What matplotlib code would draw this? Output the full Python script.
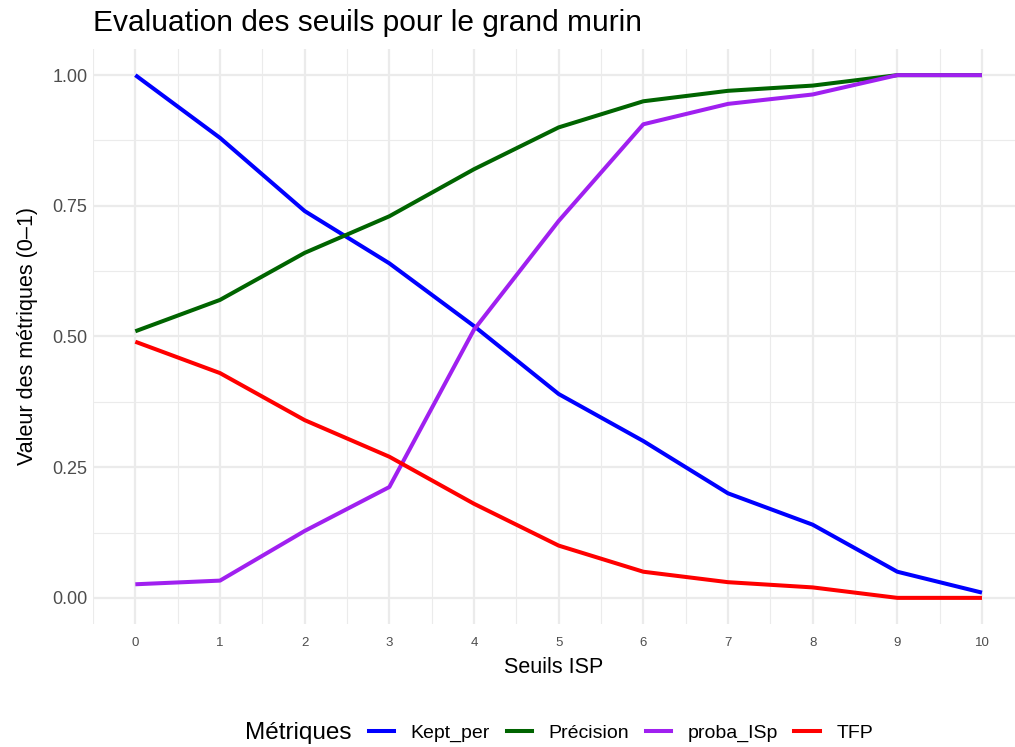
import matplotlib
matplotlib.use("Agg")
import matplotlib.pyplot as plt
from matplotlib.lines import Line2D
import numpy as np

plt.rcParams['font.family'] = ['Liberation Sans', 'DejaVu Sans']

seuils = [0, 1, 2, 3, 4, 5, 6, 7, 8, 9, 10]
kept_per = [1.00, 0.88, 0.74, 0.64, 0.52, 0.39, 0.30, 0.20, 0.14, 0.05, 0.01]
precision = [0.51, 0.57, 0.66, 0.73, 0.82, 0.90, 0.95, 0.97, 0.98, 1.00, 1.00]
proba_isp = [0.026, 0.033, 0.128, 0.212, 0.513, 0.721, 0.906, 0.945, 0.963, 1.00, 1.00]
tfp = [0.49, 0.43, 0.34, 0.27, 0.18, 0.10, 0.05, 0.03, 0.02, 0.00, 0.00]

series_names = ['Kept_per', 'Précision', 'proba_ISp', 'TFP']
series_values = [kept_per, precision, proba_isp, tfp]
series_colors = ['#0000FF', '#006400', '#A020F0', '#FF0000']
y_ticks = [0.00, 0.25, 0.50, 0.75, 1.00]
y_tick_labels = ['0.00', '0.25', '0.50', '0.75', '1.00']

W, H = 1015, 747
fig = plt.figure(figsize=(W / 100, H / 100), dpi=100)
left, right, top, bottom = 93, 1015, 49, 624
ax = fig.add_axes([left / W, 1 - bottom / H, (right - left) / W, (bottom - top) / H])

ax.set_xlim(-0.5, 10.39)
ax.set_ylim(-0.05, 1.05)

# grid
for x in np.arange(-0.5, 10.5, 0.5):
    major = float(x).is_integer()
    ax.axvline(x, color='#EBEBEB', lw=1.6 if major else 0.8, zorder=0)
for y in np.arange(-0.125, 1.1, 0.125):
    major = abs((y / 0.25) - round(y / 0.25)) < 1e-9
    ax.axhline(y, color='#EBEBEB', lw=1.6 if major else 0.8, zorder=0)

for name, vals, col in zip(series_names, series_values, series_colors):
    ax.plot(seuils, vals, color=col, lw=2.9, solid_capstyle='butt', solid_joinstyle='round', label=name, zorder=3)

for s in ax.spines.values():
    s.set_visible(False)
ax.set_xticks(seuils)
ax.set_xticklabels([str(s) for s in seuils], fontsize=9.5, color='#4D4D4D')
ax.set_yticks(y_ticks)
ax.set_yticklabels(y_tick_labels, fontsize=13, color='#4D4D4D')
ax.tick_params(length=0, pad=4)
ax.tick_params(axis='x', pad=9)

ax.set_xlabel('Seuils ISP', fontsize=15.5, labelpad=6)
ax.set_ylabel('Valeur des métriques (0–1)', fontsize=15.5, labelpad=10)

fig.text(left / W, 1 - 23 / H, 'Evaluation des seuils pour le grand murin', fontsize=21.5,
         ha='left', va='center')

# legend at the bottom
fig.text(245 / W, 1 - 733 / H, 'Métriques', fontsize=17.5, ha='left', va='center')
handles = [Line2D([0], [0], color=c, lw=2.9) for c in series_colors]
leg = fig.legend(handles, series_names, loc='center left', bbox_to_anchor=(369 / W, 1 - 733 / H),
                 ncol=4, frameon=False, fontsize=14, handlelength=1.3, handletextpad=0.85,
                 columnspacing=0.85, borderaxespad=0, borderpad=0)

fig.savefig('out.png', dpi=100)
